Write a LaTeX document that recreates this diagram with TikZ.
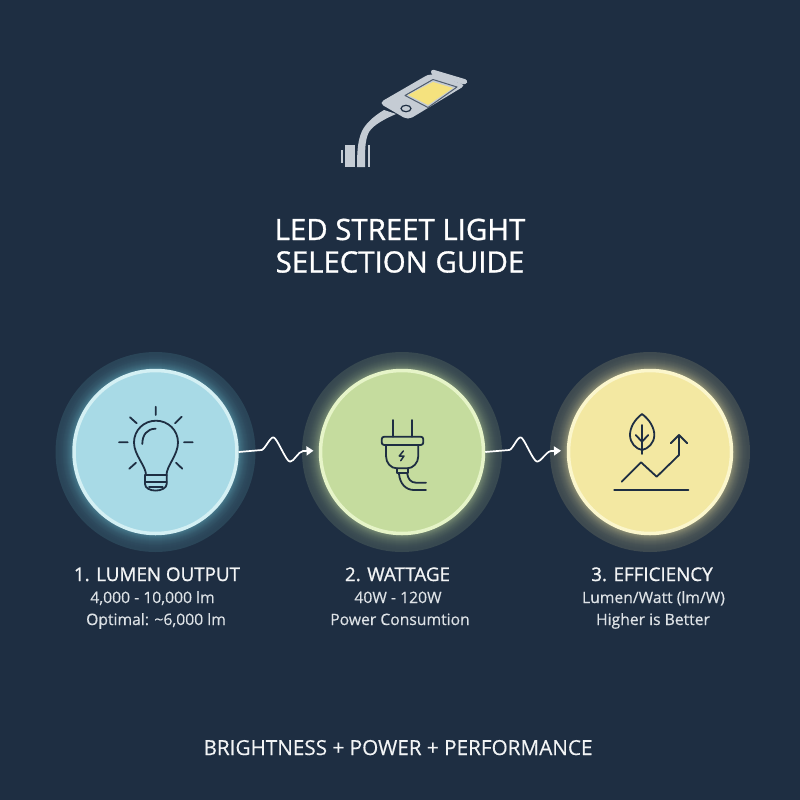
\documentclass[tikz,border=0pt]{standalone}
\usepackage{fontspec}
\setmainfont{Open Sans}
\newfontfamily\medfont[FakeBold=1.0]{Open Sans}
\newfontfamily\lightfont[FakeBold=0.4]{Open Sans}
\usetikzlibrary{arrows.meta}
\definecolor{bgc}{HTML}{1E2E42}
\definecolor{ink}{HTML}{1E2E42}
\definecolor{bluef}{HTML}{A8DAE6}
\definecolor{bluer}{HTML}{D4F0F4}
\definecolor{blueg}{HTML}{6FC4D6}
\definecolor{greenf}{HTML}{C5DC9E}
\definecolor{greenr}{HTML}{E6F4C8}
\definecolor{greeng}{HTML}{C5DC9E}
\definecolor{yellf}{HTML}{F3E8A2}
\definecolor{yellr}{HTML}{FBF6CC}
\definecolor{yellg}{HTML}{F3E8A2}
\definecolor{lampg}{HTML}{C5CCD4}
\definecolor{lampl}{HTML}{F5E27E}
\definecolor{txt}{HTML}{F2F4F5}
\definecolor{subt}{HTML}{DDE2E6}
\tikzset{
  x=1pt,y=-1pt,
  iconline/.style={draw=ink,line width=1.8pt,line cap=round,line join=round},
  wave/.style={draw=white,line width=1.7pt,line join=round,-{Triangle[length=7pt,width=9pt]}},
  head/.style={text=txt,font=\medfont\fontsize{18.8}{22}\selectfont,align=center,anchor=base,inner sep=0pt},
  sub/.style={text=subt,font=\lightfont\fontsize{15.7}{22}\selectfont,align=center,anchor=base,inner sep=0pt},
  title/.style={text=white,font=\medfont\fontsize{29.4}{34}\selectfont,align=center,anchor=base,inner sep=0pt},
  disc/.style={circle,minimum size=163pt,inner sep=0pt,line width=3.5pt}
}
\newcommand{\glow}[2]{% x, colour
  \fill[#2!15!bgc] (#1,452) circle (100);
  \foreach \r/\p in {97/16,96/17,95/18,94/19,93/21,92/23,91/25,90/27,89/30,88/33,87/36,86/40,85/44,84/48,83/52}{
    \fill[#2!\p!bgc] (#1,452) circle (\r);
  }
}
\begin{document}
\begin{tikzpicture}
\useasboundingbox (0,0) rectangle (800,800);
\fill[bgc] (0,0) rectangle (800,800);
% --- lamp
\fill[lampg] (341,150) rectangle (343,163);
\fill[lampg] (345,145) rectangle (355,167);
\fill[lampg] (368,145) rectangle (370,167);
\fill[lampg] (357,167) .. controls (357,150) and (358,140) .. (362,131) .. controls (366,123) and (374,116) .. (384,110) -- (396,114) .. controls (380,121) and (371,127) .. (368,134) .. controls (365,142) and (365,150) .. (365,167) -- cycle;
\fill[lampg,rounded corners=3pt] (431,69) -- (468,80) -- (466,85) -- (431,75) -- cycle;
\fill[lampg,rounded corners=5pt] (379,103) -- (430,73.5) -- (466,85) -- (408,120) -- cycle;
\draw[bgc!70!lampg,line width=1pt,line join=round] (405,95.5) -- (433,79.5) -- (457,87) -- (428,107.5) -- cycle;
\fill[lampl] (408,95) -- (433,82) -- (453,88) -- (428,105) -- cycle;
\draw[bgc,fill=lampg,line width=1.2pt] (406,108.5) ellipse (5 and 3.2);
% --- circles
\glow{155.5}{blueg}
\glow{402}{greeng}
\glow{650}{yellg}
\node[disc,fill=bluef,draw=bluer] (c1) at (155.5,452) {};
\node[disc,fill=greenf,draw=greenr] (c2) at (402,452) {};
\node[disc,fill=yellf,draw=yellr] (c3) at (650,452) {};
% --- connectors
\coordinate (e1) at (313.5,450.7);
\coordinate (e2) at (561,450.7);
\draw[wave] (c1.east) -- (261.7,450) .. controls (265,449) and (270,437.3) .. (273.3,437.3) .. controls (277,437.3) and (286,461.7) .. (290,461.7) .. controls (294,461.7) and (298,451.7) .. (303,451) -- (e1);
\draw[wave] (c2.east) -- (509.3,450) .. controls (513,449) and (517,437.3) .. (520.7,437.3) .. controls (524,437.3) and (533,461.7) .. (537.3,461.7) .. controls (541,461.7) and (546,451.7) .. (551,451) -- (e2);
% --- bulb icon
\draw[iconline] (146,475) .. controls (146,466) and (134,455) .. (134,442.5) .. controls (134,430) and (144,420.7) .. (156,420.7) .. controls (168,420.7) and (178,430) .. (178,442.5) .. controls (178,455) and (166.5,466) .. (166.5,475);
\draw[iconline] (145,475) -- (166.7,475) (145,481.7) -- (166.7,481.7) (149,486.7) -- (162.7,486.7);
\draw[iconline] (145,475) -- (145,484) .. controls (145,488) and (150,490.6) .. (155.7,490.6) .. controls (161,490.6) and (166.7,488) .. (166.7,484) -- (166.7,475);
\draw[iconline] (142.3,444) .. controls (142.3,435) and (147,428.7) .. (155.7,428.7);
\draw[iconline] (155.7,406.7) -- (155.7,415) (130,417.3) -- (136.7,423.3) (181.7,416.7) -- (175,423.3) (119,442.3) -- (127.7,442.3) (184,442.3) -- (192.7,442.3) (129.3,468.7) -- (136,462.7) (182.3,468.7) -- (176,462.7);
% --- plug icon
\draw[iconline] (393.3,420) -- (393.3,436.7) (411.7,420) -- (411.7,436.7);
\draw[iconline,rounded corners=2.5pt] (381.7,436.7) rectangle (423.3,445);
\draw[iconline] (386,445) -- (386,456) .. controls (386,463) and (391,468.3) .. (396.7,468.3) -- (407.3,468.3) .. controls (413,468.3) and (418.3,463) .. (418.3,456) -- (418.3,445);
\draw[iconline] (396.7,468.3) -- (396.7,473.3) -- (408.3,473.3) -- (408.3,468.3);
\draw[iconline] (399,474) .. controls (400,484) and (406,490) .. (414,490) -- (426,490);
\draw[iconline] (407.3,474) .. controls (408,479) and (411,482.7) .. (416,482.7) -- (426,482.7);
\draw[iconline,line width=1.5pt] (403.3,451) -- (399.3,456) -- (404,456) -- (400.7,460.7);
% --- efficiency icon
\draw[iconline] (642,414) .. controls (634,420) and (630,428) .. (630,435) .. controls (630,443) and (636,449) .. (642,450) .. controls (648,449) and (654.3,443) .. (654.3,435) .. controls (654.3,428) and (650,420) .. (642,414) -- cycle;
\draw[iconline] (642,425) -- (642,454) (635.7,435) -- (642,441.7) -- (648.3,435);
\draw[iconline] (621.7,481.7) -- (641,462.3) -- (656.7,476.7) -- (679,455) -- (679,435);
\draw[iconline] (670.7,443.3) -- (679,435) -- (687.3,443.3);
\draw[iconline,line width=2.2pt] (614.3,490) -- (688.3,490);
% --- text
\node[title] (t1) at (400,240) {LED STREET LIGHT};
\node[title] (t2) at (400,272.5) {SELECTION GUIDE};
\node[head] (h1) at (157,581) {1. LUMEN OUTPUT};
\node[sub] (s1a) at (152.5,603) {4,000 - 10,000 lm};
\node[sub] (s1b) at (156,625) {Optimal: \textasciitilde6,000 lm};
\node[head] (h2) at (397.5,581) {2. WATTAGE};
\node[sub] (s2a) at (398,603) {40W - 120W};
\node[sub] (s2b) at (400,625) {Power Consumtion};
\node[head] (h3) at (652,581) {3. EFFICIENCY};
\node[sub] (s3a) at (653.5,603) {Lumen/Watt (lm/W)};
\node[sub] (s3b) at (653,625) {Higher is Better};
\node[text=txt,font=\lightfont\fontsize{20.7}{24}\selectfont,anchor=base,inner sep=0pt] (f) at (398,755) {BRIGHTNESS + POWER + PERFORMANCE};
\end{tikzpicture}
\end{document}
